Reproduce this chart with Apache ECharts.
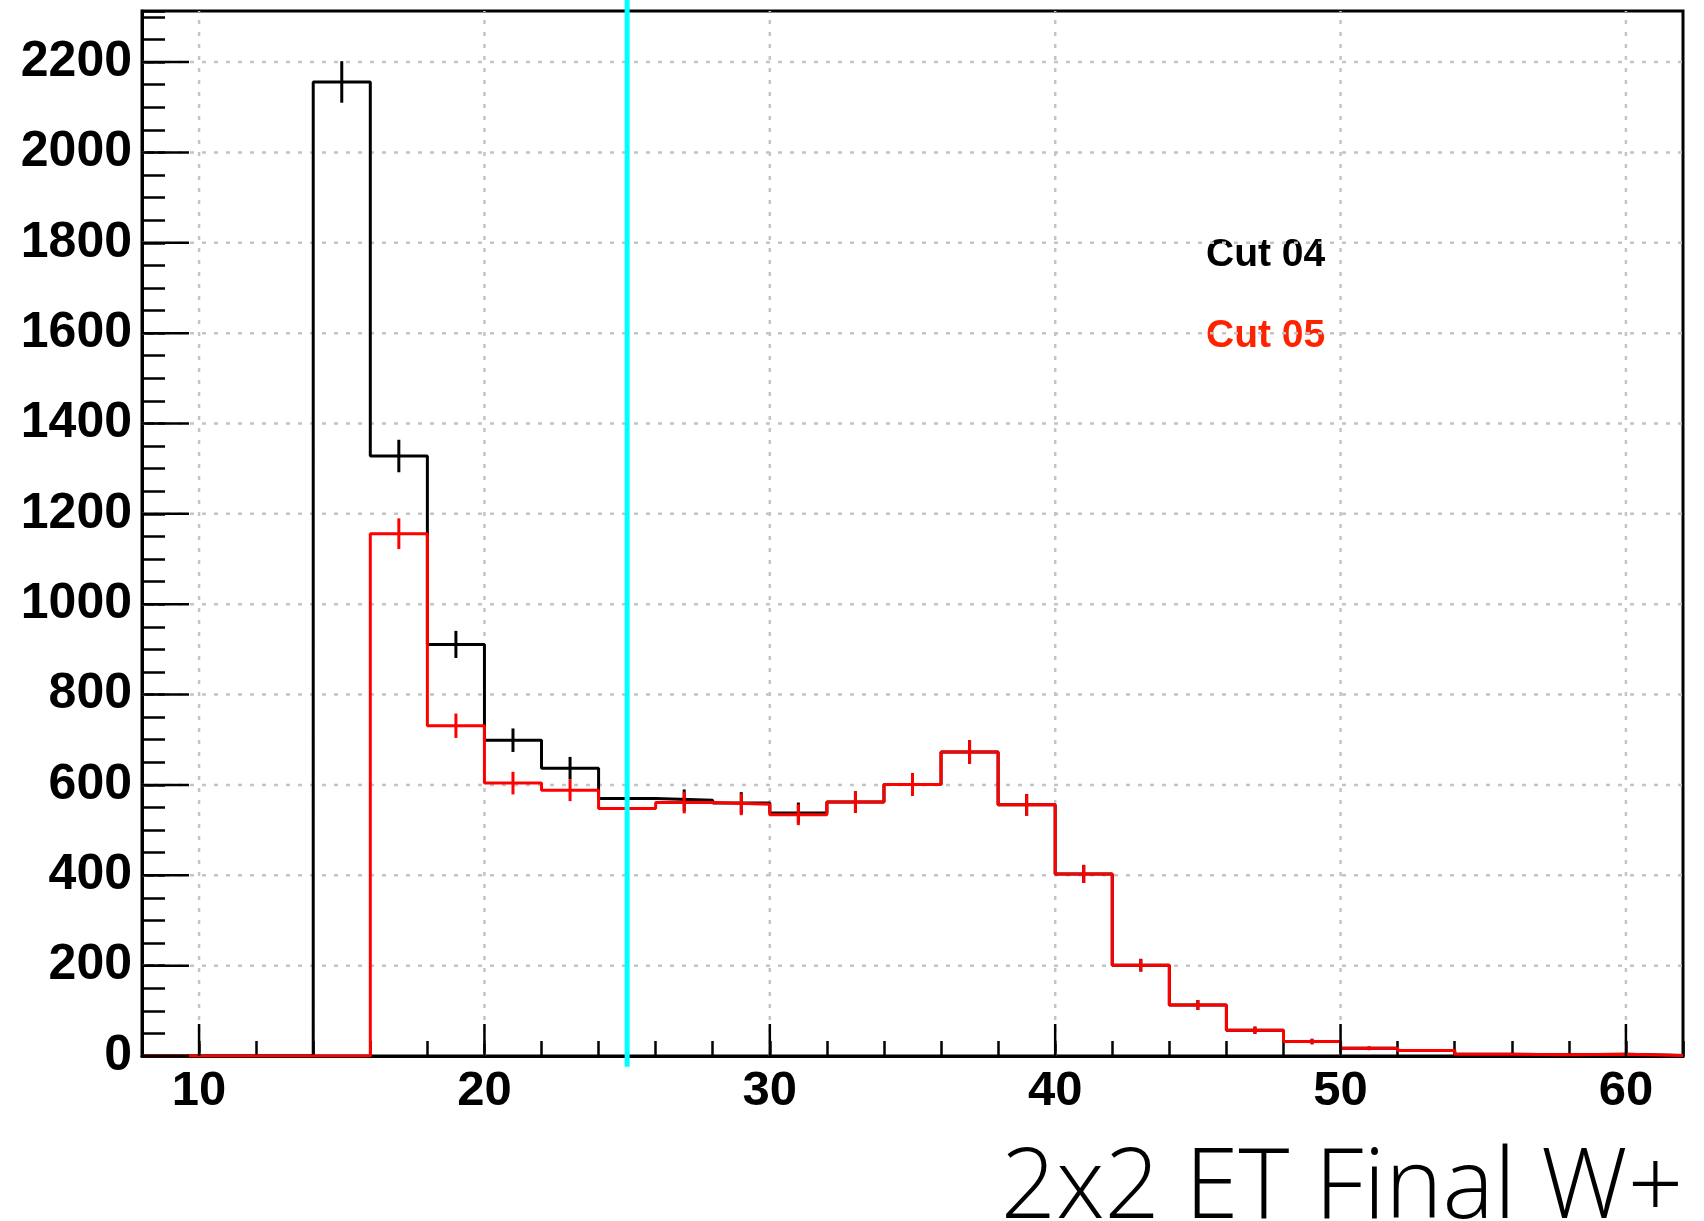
<!DOCTYPE html>
<html><head><meta charset="utf-8">
<script src="https://cdn.jsdelivr.net/npm/echarts@6/dist/echarts.min.js"></script>
<style>html,body{margin:0;padding:0;background:#fff}#c{width:1704px;height:1221px}</style>
</head><body><div id="c"></div>
<script>
// ---- data ----
const binEdges = [8,10,12,14,16,18,20,22,24,26,28,30,32,34,36,38,40,42,44,46,48,50,52,54,56,58,60,62];
const cut04    = [0,0,0,2156,1328,911,699,637,570,566,560,538,562,601,673,556,403,201,113,57,32,17,12,4,3,4,1];
const cut04Err = [0,0,0,46,36,30,26,25,24,24,24,23,24,25,26,24,20,14,11,8,6,4,3,2,2,2,1];
const cut05    = [0,0,0,0,1156,731,604,588,548,561,557,534,562,601,673,556,403,201,113,57,32,17,12,4,3,4,1];
const cut05Err = [0,0,0,0,34,27,25,24,23,24,24,23,24,25,26,24,20,14,11,8,6,4,3,2,2,2,1];
const xMajorTicks = [10,20,30,40,50,60];
const yMajorTicks = [0,200,400,600,800,1000,1200,1400,1600,1800,2000,2200];
const xRange = [8, 62];
const yRange = [0, 2313];
const cutValue = 25;
const cutLineSpan = [-24, 2400];
const seriesNames = ['Cut 04', 'Cut 05'];
const plotTitle = '2x2 ET Final W+';

// ---- helpers building tables from the arrays ----
function stepPoints(vals) {
  const pts = [];
  for (let i = 0; i < vals.length; i++) {
    pts.push([binEdges[i], vals[i]]);
    pts.push([binEdges[i + 1], vals[i]]);
  }
  return pts;
}
function errPoints(vals, errs) {
  const pts = [];
  for (let i = 0; i < vals.length; i++) {
    if (vals[i] > 0) pts.push([(binEdges[i] + binEdges[i + 1]) / 2, vals[i], errs[i]]);
  }
  return pts;
}
function errSeries(vals, errs, color, z) {
  return {
    type: 'custom', z: z, silent: true, clip: true,
    data: errPoints(vals, errs),
    encode: { x: 0, y: 1 },
    renderItem: function (params, api) {
      const x = api.value(0), y = api.value(1), e = api.value(2);
      const p1 = api.coord([x, y - e]), p2 = api.coord([x, y + e]);
      return { type: 'line', shape: { x1: p1[0], y1: p1[1], x2: p2[0], y2: p2[1] },
               style: { stroke: color, lineWidth: 3 } };
    }
  };
}

const gridStyle = { stroke: '#c4c4c4', lineWidth: 2.5, lineDash: [4, 8] };

const chart = echarts.init(document.getElementById('c'), null, { renderer: 'canvas' });
chart.setOption({
  animation: false,
  backgroundColor: '#fff',
  grid: { left: 142, right: 21, top: 11, bottom: 165, show: true, borderColor: '#000', borderWidth: 3, backgroundColor: 'transparent' },
  xAxis: {
    type: 'value', min: xRange[0], max: xRange[1], interval: 2,
    axisLine: { show: true, lineStyle: { color: '#000', width: 3 } },
    axisTick: { show: true, inside: true, length: 15, lineStyle: { color: '#000', width: 2.5 } },
    splitLine: { show: false },
    axisLabel: { margin: 11, fontFamily: 'Liberation Sans', fontWeight: 'bold', fontSize: 49, color: '#000',
      formatter: v => xMajorTicks.indexOf(v) >= 0 ? String(v) : '' }
  },
  yAxis: {
    type: 'value', min: yRange[0], max: yRange[1], interval: 50,
    axisLine: { show: true, lineStyle: { color: '#000', width: 3 } },
    axisTick: { show: true, inside: true, length: 23, lineStyle: { color: '#000', width: 2.5 } },
    splitLine: { show: false },
    axisLabel: { margin: 10, fontFamily: 'Liberation Sans', fontWeight: 'bold', fontSize: 50, color: '#000',
      padding: [10, 0, 0, 0],
      formatter: v => yMajorTicks.indexOf(v) >= 0 ? String(v) : '' }
  },
  series: [
    { // vertical dotted grid
      type: 'custom', z: 1, silent: true,
      data: xMajorTicks.map(v => [v, yRange[0]]), encode: { x: 0, y: 1 },
      renderItem: function (params, api) {
        const a = api.coord([api.value(0), yRange[0]]), b = api.coord([api.value(0), yRange[1]]);
        return { type: 'line', shape: { x1: a[0], y1: a[1], x2: b[0], y2: b[1] }, style: gridStyle };
      }
    },
    { // horizontal dotted grid
      type: 'custom', z: 1, silent: true,
      data: yMajorTicks.filter(v => v > 0).map(v => [xRange[0], v]), encode: { x: 0, y: 1 },
      renderItem: function (params, api) {
        const a = api.coord([xRange[0], api.value(1)]), b = api.coord([xRange[1], api.value(1)]);
        return { type: 'line', shape: { x1: a[0], y1: a[1], x2: b[0], y2: b[1] }, style: gridStyle };
      }
    },
    { name: seriesNames[0], type: 'line', z: 2, data: stepPoints(cut04), showSymbol: false, symbol: 'none',
      lineStyle: { color: '#000', width: 3 }, silent: true },
    errSeries(cut04, cut04Err, '#000', 2),
    { name: seriesNames[1], type: 'line', z: 3, data: stepPoints(cut05), showSymbol: false, symbol: 'none',
      lineStyle: { color: '#ff0000', width: 3 }, silent: true },
    errSeries(cut05, cut05Err, '#ff0000', 3),
    { // cut line
      type: 'custom', z: 4, silent: true, clip: false,
      data: [[cutValue, cutLineSpan[0], cutLineSpan[1]]], encode: { x: 0, y: 1 },
      renderItem: function (params, api) {
        const a = api.coord([api.value(0), api.value(1)]), b = api.coord([api.value(0), api.value(2)]);
        return { type: 'line', shape: { x1: a[0], y1: a[1], x2: b[0], y2: b[1] },
                 style: { stroke: '#00ffff', lineWidth: 5 } };
      }
    },
    { // major x ticks
      type: 'custom', z: 5, silent: true,
      data: xMajorTicks.map(v => [v, yRange[0]]), encode: { x: 0, y: 1 },
      renderItem: function (params, api) {
        const a = api.coord([api.value(0), yRange[0]]);
        return { type: 'line', shape: { x1: a[0], y1: a[1], x2: a[0], y2: a[1] - 32 },
                 style: { stroke: '#000', lineWidth: 2.5 } };
      }
    },
    { // major y ticks
      type: 'custom', z: 5, silent: true,
      data: yMajorTicks.map(v => [xRange[0], v]), encode: { x: 0, y: 1 },
      renderItem: function (params, api) {
        const a = api.coord([xRange[0], api.value(1)]);
        return { type: 'line', shape: { x1: a[0], y1: a[1], x2: a[0] + 47, y2: a[1] },
                 style: { stroke: '#000', lineWidth: 2.5 } };
      }
    }
  ],
  graphic: [
    { type: 'text', x: 1206, y: 255, silent: true,
      style: { text: seriesNames[0], font: 'bold 39px "Liberation Sans"', fill: '#000', align: 'left', verticalAlign: 'middle' } },
    { type: 'text', x: 1206, y: 336, silent: true,
      style: { text: seriesNames[1], font: 'bold 39px "Liberation Sans"', fill: '#ff2200', align: 'left', verticalAlign: 'middle' } },
    { type: 'text', x: 1683, y: 1190, silent: true,
      style: { text: plotTitle, font: '300 97px "Open Sans"', fill: '#000', align: 'right', verticalAlign: 'middle' } }
  ]
});
</script></body></html>
